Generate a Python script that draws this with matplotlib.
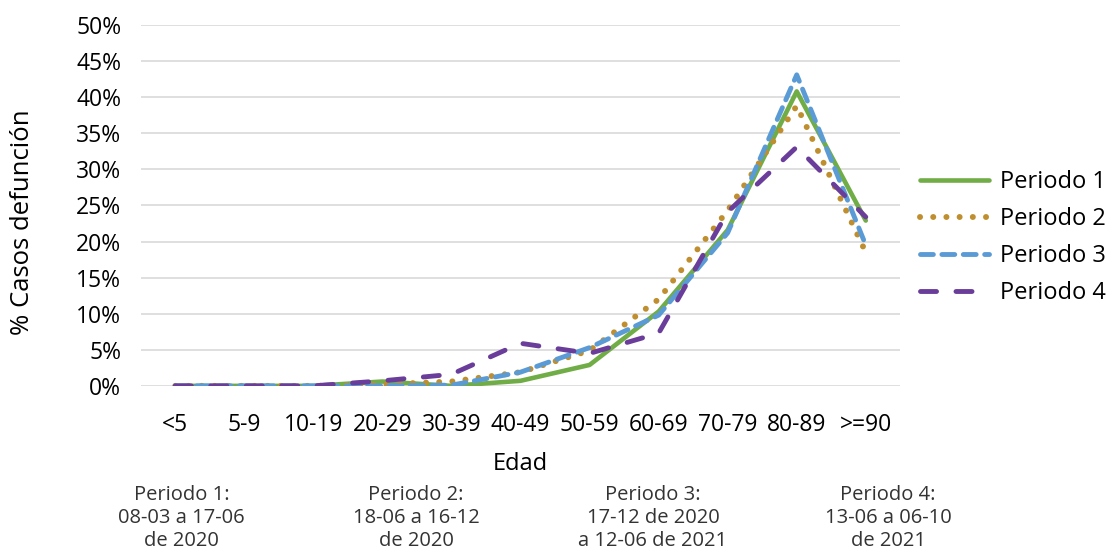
import numpy as np
import matplotlib
matplotlib.use("Agg")
import matplotlib.pyplot as plt
from matplotlib.ticker import PercentFormatter

plt.rcParams['font.family'] = ['Open Sans', 'DejaVu Sans']

# Data (% of death cases by age group)
edades = ['<5', '5-9', '10-19', '20-29', '30-39', '40-49', '50-59',
          '60-69', '70-79', '80-89', '>=90']
periodo1 = [0, 0, 0, 0.6, 0.0, 0.7, 2.9, 10.3, 21.6, 40.8, 22.9]
periodo2 = [0, 0, 0, 0.2, 0.6, 1.9, 4.9, 12.0, 24.3, 38.8, 18.5]
periodo3 = [0, 0, 0, 0.0, 0.1, 1.9, 5.3, 9.8, 21.2, 43.1, 19.5]
periodo4 = [0, 0, 0, 0.7, 1.6, 5.9, 4.5, 7.3, 24.1, 33.1, 23.4]

notas = ['Periodo 1:\n08-03 a 17-06\nde 2020',
         'Periodo 2:\n18-06 a 16-12\nde 2020',
         'Periodo 3:\n17-12 de 2020\na 12-06 de 2021',
         'Periodo 4:\n13-06 a 06-10\nde 2021']

fig = plt.figure(figsize=(11.17, 5.56), dpi=100)
ax = fig.add_axes([0.126, 0.306, 0.68, 0.649])

x = np.arange(len(edades))
ax.plot(x, periodo1, color='#70ad47', lw=3.3, label='Periodo 1', solid_capstyle='round')
ax.plot(x, periodo2, color='#bf8f2f', lw=4.3, linestyle=(0, (0.01, 2.2)),
        dash_capstyle='round', label='Periodo 2')
ax.plot(x, periodo3, color='#5b9bd5', lw=3.5, linestyle=(0, (2.65, 1.75)),
        dash_capstyle='round', label='Periodo 3')
ax.plot(x, periodo4, color='#6a3d9a', lw=3.5, linestyle=(0, (3.3, 4.0)),
        dash_capstyle='round', label='Periodo 4')

ax.set_xlim(-0.5, len(edades) - 0.5)
ax.set_ylim(0, 50)
ax.set_yticks(np.arange(0, 51, 5))
ax.yaxis.set_major_formatter(PercentFormatter(decimals=0))
ax.set_xticks(x)
ax.set_xticklabels(edades)
ax.grid(axis='y', color='#d9d9d9', lw=1.2)
ax.set_axisbelow(True)
for s in ax.spines.values():
    s.set_visible(False)
ax.tick_params(axis='both', length=0, labelsize=16.5, colors='black')
ax.tick_params(axis='x', pad=19.5)
ax.tick_params(axis='y', pad=14)

ax.set_xlabel('Edad', fontsize=17, labelpad=11)
ax.set_ylabel('% Casos defunción', fontsize=18.5)
ax.yaxis.set_label_coords(-0.139, 0.454)

leg = fig.legend(loc='center left', bbox_to_anchor=(0.8237, 0.573), frameon=False,
                 fontsize=17, handlelength=2.9, labelspacing=0.55, handletextpad=0.47,
                 borderpad=0, borderaxespad=0)

for xc, txt in zip([0.1625, 0.3724, 0.5846, 0.795], notas):
    fig.text(xc, 0.127, txt, ha='center', va='top', fontsize=14.5,
             color='#333333', linespacing=1.2)

fig.savefig('out.png', dpi=100)
